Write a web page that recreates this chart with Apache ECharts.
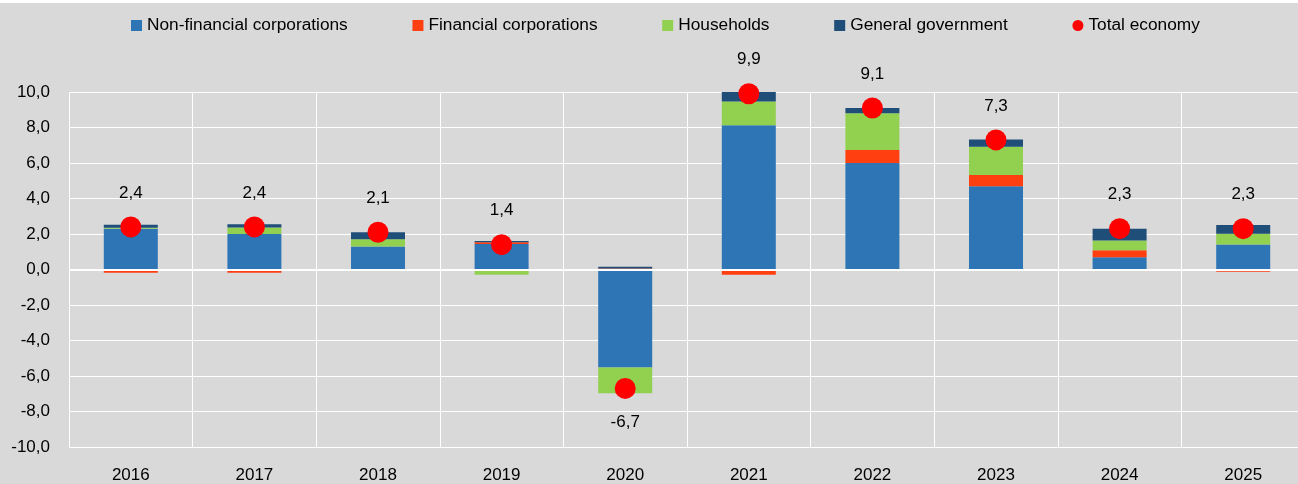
<!DOCTYPE html>
<html>
<head>
<meta charset="utf-8">
<script src="https://cdn.jsdelivr.net/npm/echarts@6/dist/echarts.min.js"></script>
<style>
html, body { margin: 0; padding: 0; background: #d9d9d9; overflow: hidden; width: 1298px; height: 484px; }
#wrap { width: 1298px; height: 484px; overflow: hidden; position: relative; }
#chart { width: 1310px; height: 484px; position: absolute; left: 0; top: 0; }
</style>
</head>
<body>
<div id="wrap"><div id="chart"></div></div>
<script>
const years = ['2016', '2017', '2018', '2019', '2020', '2021', '2022', '2023', '2024', '2025'];
const nonFinancial = [2.30, 2.00, 1.30, 1.43, -5.52, 8.13, 6.00, 4.69, 0.69, 1.41];
const financial = [-0.18, -0.18, 0.00, 0.10, 0.05, -0.30, 0.73, 0.63, 0.39, -0.12];
const households = [0.05, 0.37, 0.41, -0.30, -1.45, 1.34, 2.07, 1.59, 0.56, 0.60];
const government = [0.17, 0.18, 0.39, 0.08, 0.10, 0.56, 0.30, 0.41, 0.65, 0.50];
const totalEconomy = [2.4, 2.4, 2.1, 1.4, -6.7, 9.9, 9.1, 7.3, 2.3, 2.3];
const yTicks = { min: -10, max: 10, interval: 2 };

const FONT = "'Liberation Sans', Arial, sans-serif";
const fmt = v => v.toFixed(1).replace('.', ',');

const chart = echarts.init(document.getElementById('chart'), null, { renderer: 'canvas' });

function barSeries(name, data, color) {
  return {
    name: name,
    type: 'bar',
    stack: 'sectors',
    barWidth: 54,
    data: data,
    itemStyle: { color: color },
    emphasis: { disabled: true },
    z: 2
  };
}

const series = [
  barSeries('Non-financial corporations', nonFinancial, '#2e75b6'),
  barSeries('Financial corporations', financial, '#ff3f0f'),
  barSeries('Households', households, '#92d050'),
  barSeries('General government', government, '#1f4e79'),
  {
    name: 'Total economy',
    type: 'scatter',
    symbol: 'circle',
    symbolSize: 21,
    z: 5,
    itemStyle: { color: '#ff0000', opacity: 1 },
    emphasis: { disabled: true },
    data: totalEconomy.map(v => ({
      value: v,
      label: { position: v < 0 ? 'bottom' : 'top' }
    })),
    label: {
      show: true,
      distance: 15,
      fontFamily: FONT,
      fontSize: 17,
      color: '#000',
      formatter: p => fmt(p.value)
    }
  },
  {
    name: 'zero',
    type: 'line',
    data: [],
    silent: true,
    z: 3,
    markLine: {
      silent: true,
      symbol: 'none',
      label: { show: false },
      lineStyle: { color: '#ffffff', width: 2, type: 'solid' },
      data: [{ yAxis: 0 }]
    }
  }
];

chart.setOption({
  backgroundColor: '#d9d9d9',
  animation: false,
  graphic: [{
    type: 'rect',
    shape: { x: 0, y: 0, width: 1310, height: 3 },
    style: { fill: '#ffffff' },
    z: 100
  }],
  legend: {
    left: 131,
    top: 17,
    padding: 0,
    itemWidth: 11,
    itemHeight: 11,
    itemGap: 64.7,
    textStyle: { fontFamily: FONT, fontSize: 17.3, color: '#000' },
    data: [
      { name: 'Non-financial corporations', icon: 'rect' },
      { name: 'Financial corporations', icon: 'rect' },
      { name: 'Households', icon: 'rect' },
      { name: 'General government', icon: 'rect' },
      { name: 'Total economy', icon: 'circle' }
    ]
  },
  grid: { left: 69, right: 5, top: 92, bottom: 33, containLabel: false },
  xAxis: {
    type: 'category',
    data: years,
    axisLine: { show: false },
    axisTick: { show: false },
    axisLabel: { fontFamily: FONT, fontSize: 17, color: '#000', margin: 20 },
    splitLine: { show: true, lineStyle: { color: '#ffffff', width: 1 } }
  },
  yAxis: {
    type: 'value',
    min: yTicks.min,
    max: yTicks.max,
    interval: yTicks.interval,
    axisLine: { show: false },
    axisTick: { show: false },
    axisLabel: { fontFamily: FONT, fontSize: 17, color: '#000', margin: 19, formatter: v => fmt(v) },
    splitLine: { show: true, lineStyle: { color: '#ffffff', width: 1 } }
  },
  series: series
});
</script>
</body>
</html>
